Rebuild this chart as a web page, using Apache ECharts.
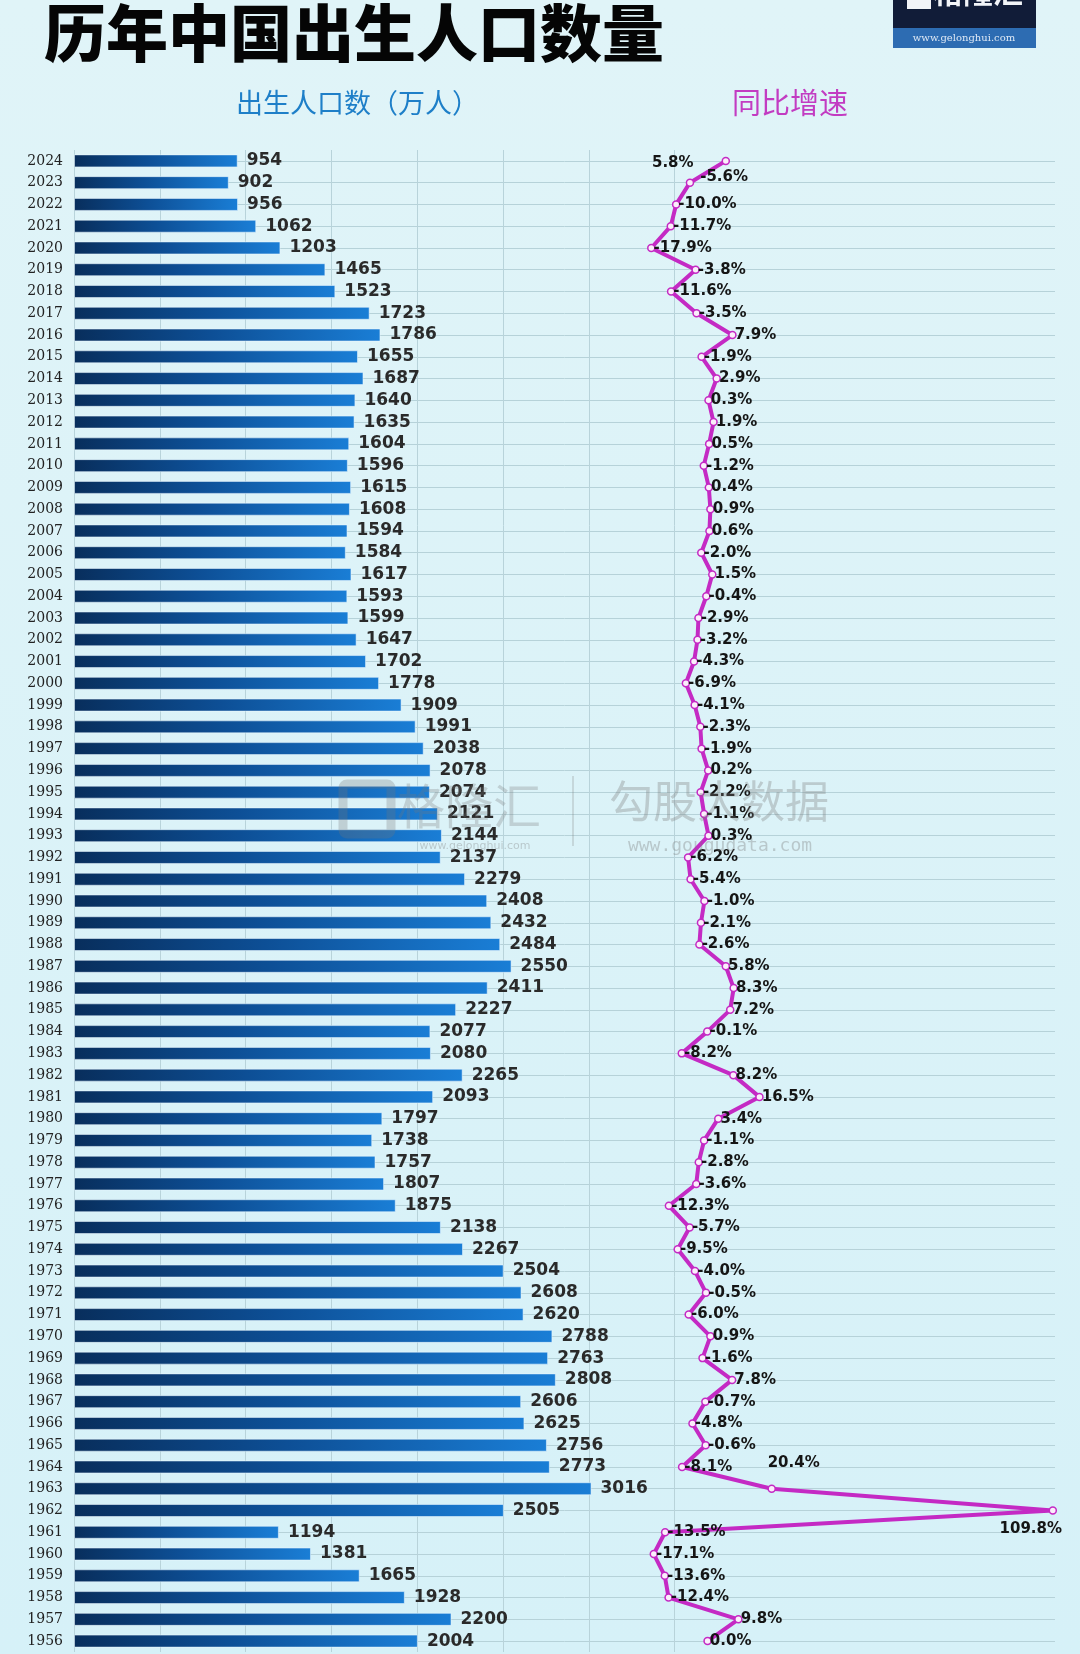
<!DOCTYPE html>
<html>
<head>
<meta charset="utf-8">
<script src="https://cdn.jsdelivr.net/npm/echarts@6/dist/echarts.min.js"></script>
<style>
html,body{margin:0;padding:0;background:#d9f2f8;}
#c{width:1080px;height:1654px;}
</style>
</head>
<body>
<div id="c"></div>
<script>
const years = ['2024','2023','2022','2021','2020','2019','2018','2017','2016','2015','2014','2013','2012','2011','2010','2009','2008','2007','2006','2005','2004','2003','2002','2001','2000','1999','1998','1997','1996','1995','1994','1993','1992','1991','1990','1989','1988','1987','1986','1985','1984','1983','1982','1981','1980','1979','1978','1977','1976','1975','1974','1973','1972','1971','1970','1969','1968','1967','1966','1965','1964','1963','1962','1961','1960','1959','1958','1957','1956'];
const births = [954,902,956,1062,1203,1465,1523,1723,1786,1655,1687,1640,1635,1604,1596,1615,1608,1594,1584,1617,1593,1599,1647,1702,1778,1909,1991,2038,2078,2074,2121,2144,2137,2279,2408,2432,2484,2550,2411,2227,2077,2080,2265,2093,1797,1738,1757,1807,1875,2138,2267,2504,2608,2620,2788,2763,2808,2606,2625,2756,2773,3016,2505,1194,1381,1665,1928,2200,2004];
const growth = [5.8,-5.6,-10.0,-11.7,-17.9,-3.8,-11.6,-3.5,7.9,-1.9,2.9,0.3,1.9,0.5,-1.2,0.4,0.9,0.6,-2.0,1.5,-0.4,-2.9,-3.2,-4.3,-6.9,-4.1,-2.3,-1.9,0.2,-2.2,-1.1,0.3,-6.2,-5.4,-1.0,-2.1,-2.6,5.8,8.3,7.2,-0.1,-8.2,8.2,16.5,3.4,-1.1,-2.8,-3.6,-12.3,-5.7,-9.5,-4.0,-0.5,-6.0,0.9,-1.6,7.8,-0.7,-4.8,-0.6,-8.1,20.4,109.8,-13.5,-17.1,-13.6,-12.4,9.8,0.0];

// label placement tweaks (style only)
const labelTweaks = {
  '2024': {position:'left', distance:28, offset:[0,2]},
  '2023': {position:'right', distance:6, offset:[0,-6]},
  '1963': {position:'top', distance:14, offset:[22,0]},
  '1962': {position:'bottom', distance:7, offset:[-22,0]}
};

const lineData = growth.map((v,i)=>{
  const t = labelTweaks[years[i]];
  return t ? {value:v, label:t} : v;
});

const chart = echarts.init(document.getElementById('c'), null, {renderer:'canvas'});
const CJK = '"Noto Sans CJK SC", "Noto Sans", sans-serif';

chart.setOption({
  backgroundColor: {
    type:'linear', x:0, y:0, x2:0, y2:1,
    colorStops:[{offset:0,color:'#e0f4f8'},{offset:1,color:'#d6f1f8'}]
  },
  animation:false,
  grid:[
    {left:74, top:150, width:600.6, bottom:2, containLabel:false},
    {left:74, right:25, top:160.9, bottom:12.9, containLabel:false}
  ],
  xAxis:[
    {type:'value', gridIndex:0, min:0, max:3500, interval:500,
     axisLabel:{show:false}, axisLine:{show:false}, axisTick:{show:false},
     splitLine:{show:true, lineStyle:{color:'#b8d3da', width:1}}},
    {type:'value', gridIndex:1, min:-201.5, max:110.5,
     axisLabel:{show:false}, axisLine:{show:false}, axisTick:{show:false},
     splitLine:{show:false}}
  ],
  yAxis:[
    {type:'category', gridIndex:0, data:years, inverse:true,
     axisLine:{show:false}, axisTick:{show:false},
     axisLabel:{show:true, margin:11, fontFamily:'"DejaVu Serif", serif', fontSize:14, color:'#222'},
     splitLine:{show:false}},
    {type:'category', gridIndex:1, data:years, inverse:true, boundaryGap:false,
     axisLine:{show:false}, axisTick:{show:false}, axisLabel:{show:false},
     splitLine:{show:true, lineStyle:{color:'#b6d2d9', width:1}}}
  ],
  series:[
    {
      type:'bar', xAxisIndex:0, yAxisIndex:0, data:births, barWidth:13,
      itemStyle:{
        color:{type:'linear', x:0, y:0, x2:1, y2:0,
          colorStops:[{offset:0,color:'#082e5c'},{offset:0.45,color:'#0d4f96'},{offset:1,color:'#1a7ed6'}]},
        borderColor:'rgba(235,248,255,0.55)', borderWidth:1
      },
      label:{show:true, position:'right', distance:9,
        fontFamily:'"DejaVu Sans", sans-serif', fontWeight:'bold', fontSize:17, color:'#2a2a2a'},
      z:2
    },
    {
      type:'line', xAxisIndex:1, yAxisIndex:1, data:lineData,
      symbol:'circle', symbolSize:7, showSymbol:true,
      lineStyle:{color:'#c42ac4', width:4},
      itemStyle:{color:'#fbeefb', borderColor:'#c42ac4', borderWidth:1.5},
      label:{show:true, position:'right', distance:-2,
        formatter:p=>Number(p.value).toFixed(1)+'%',
        fontFamily:'"DejaVu Sans", sans-serif', fontWeight:'bold', fontSize:15, color:'#151515'},
      z:5
    }
  ],
  graphic:[
    {type:'text', left:44, top:2, style:{text:'历年中国出生人口数量', fontFamily:CJK, fontWeight:900, fontSize:62, fill:'#050505'}},
    {type:'text', left:236, top:89, style:{text:'出生人口数（万人）', fontFamily:CJK, fontSize:27, fill:'#1e7fc8'}},
    {type:'text', left:732, top:88, style:{text:'同比增速', fontFamily:CJK, fontSize:29, fill:'#c23cc2'}},
    // logo
    {type:'rect', shape:{x:893, y:0, width:143, height:28}, style:{fill:'#111c38'}},
    {type:'rect', shape:{x:893, y:28, width:143, height:20}, style:{fill:'#2d6cb2'}},
    {type:'rect', shape:{x:907, y:0, width:24, height:9}, style:{fill:'#f2f4f8'}},
    {type:'text', x:978, y:-8, style:{text:'格隆汇', fontFamily:CJK, fontWeight:'bold', fontSize:30, fill:'#f2f4f8', align:'center', verticalAlign:'middle'}},
    {type:'text', x:964, y:38, style:{text:'www.gelonghui.com', fontFamily:'"DejaVu Serif", serif', fontSize:10, fill:'#dde8f5', align:'center', verticalAlign:'middle'}},
    // watermark
    {type:'rect', z:50, shape:{x:343, y:784, width:48, height:50, r:4}, style:{fill:'none', stroke:'rgba(120,120,120,0.28)', lineWidth:9}},
    {type:'text', z:50, x:469, y:806, style:{text:'格隆汇', fontFamily:CJK, fontSize:48, fill:'rgba(120,120,120,0.28)', align:'center', verticalAlign:'middle'}},
    {type:'text', z:50, x:475, y:846, style:{text:'www.gelonghui.com', fontFamily:'"DejaVu Sans", sans-serif', fontSize:11, fill:'rgba(120,120,120,0.35)', align:'center', verticalAlign:'middle'}},
    {type:'line', z:50, shape:{x1:573, y1:776, x2:573, y2:846}, style:{stroke:'rgba(120,120,120,0.3)', lineWidth:1.5}},
    {type:'text', z:50, x:719, y:801, style:{text:'勾股大数据', fontFamily:CJK, fontSize:44, fill:'rgba(120,120,120,0.33)', align:'center', verticalAlign:'middle'}},
    {type:'text', z:50, x:720, y:846, style:{text:'www.gougudata.com', fontFamily:'"DejaVu Sans Mono", monospace', fontSize:18, fill:'rgba(120,120,120,0.35)', align:'center', verticalAlign:'middle'}}
  ]
});
</script>
</body>
</html>
